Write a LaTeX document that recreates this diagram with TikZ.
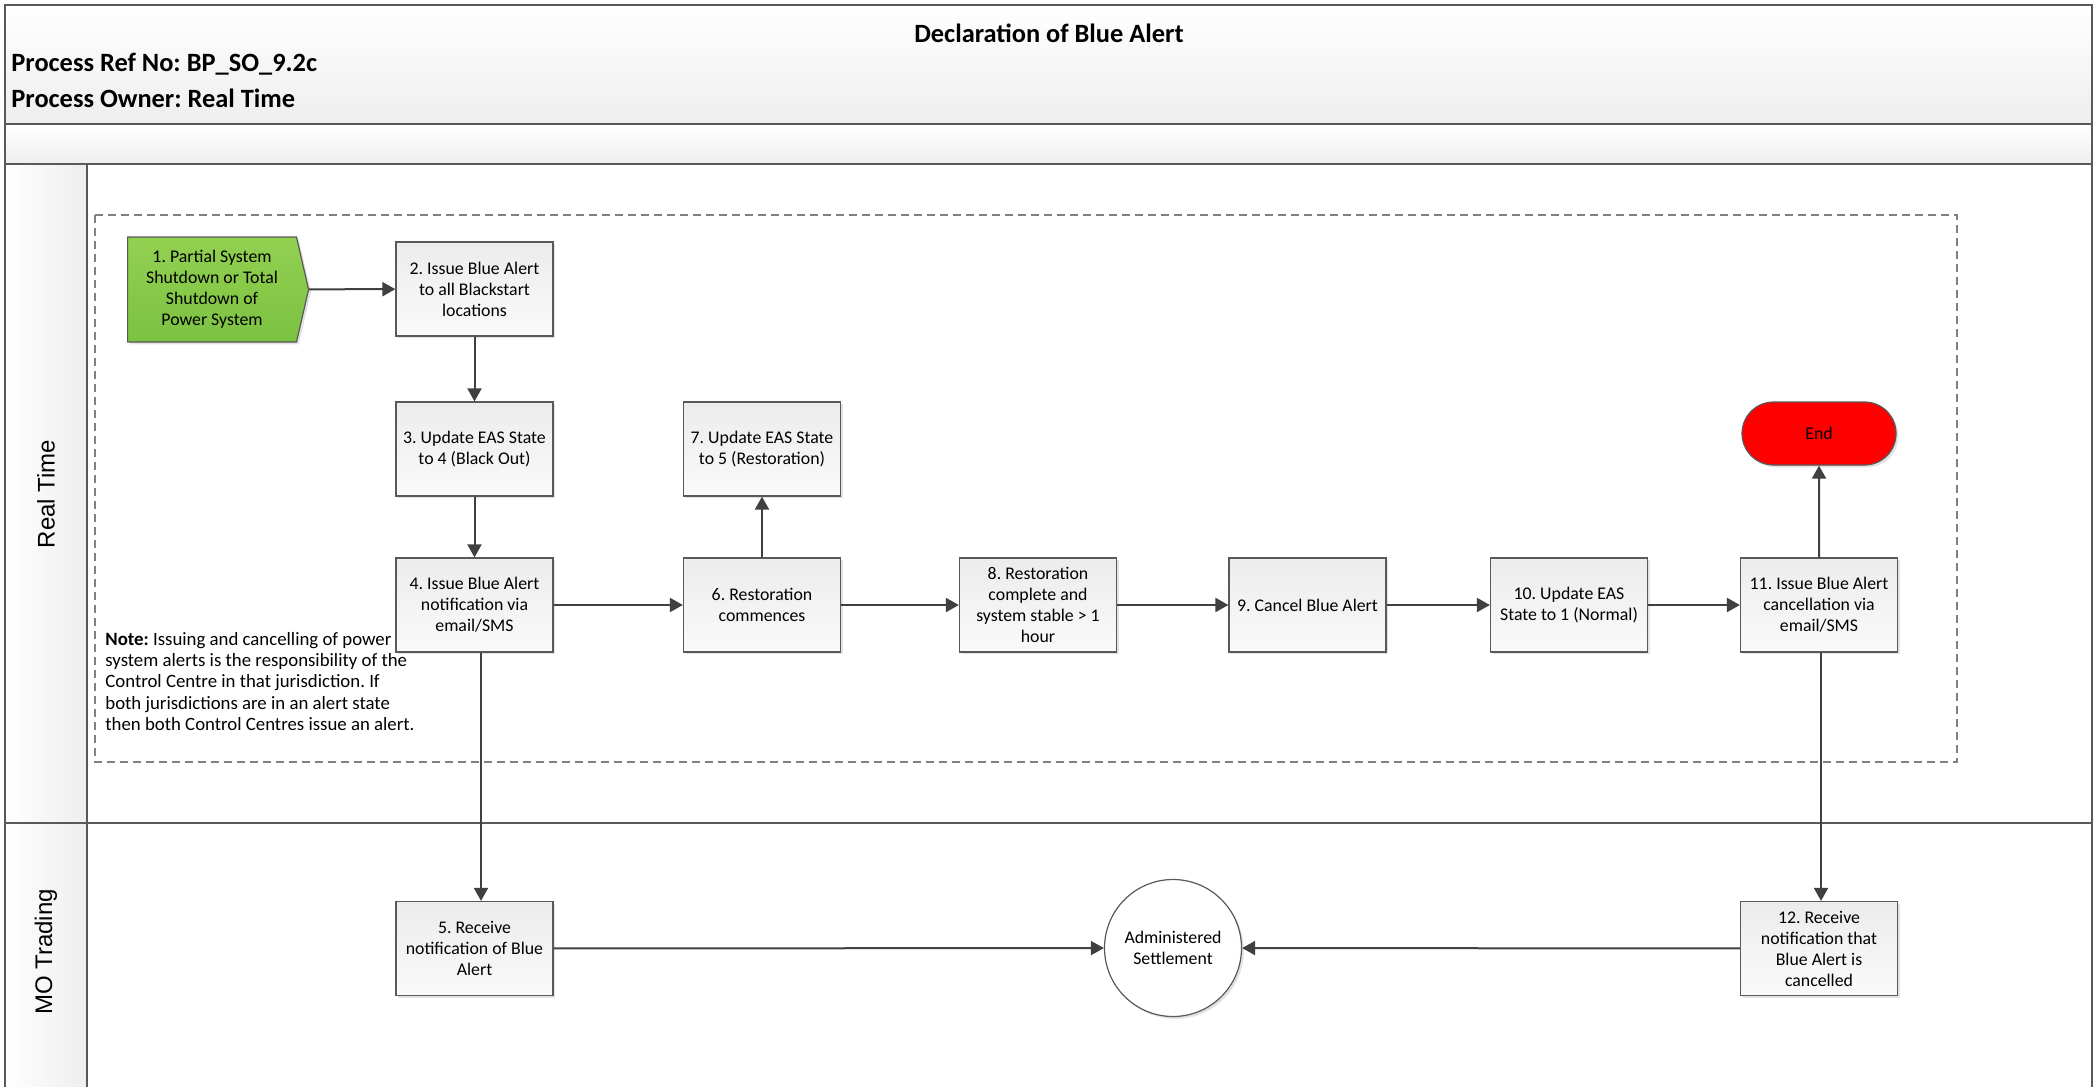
\documentclass[tikz,border=0pt]{standalone}
\usepackage{fontspec}
\setmainfont{Carlito}
\newfontfamily\lanefont{Liberation Sans}
\usetikzlibrary{shapes.geometric,shapes.misc,shapes.symbols,shadows,arrows.meta,calc}
\definecolor{lineg}{HTML}{595959}
\definecolor{arrg}{HTML}{404040}
\definecolor{boxtop}{HTML}{ECECEC}
\definecolor{boxbot}{HTML}{FAFAFA}
\definecolor{hdr}{HTML}{EEEEEE}
\definecolor{greentop}{HTML}{92D050}
\definecolor{greenbot}{HTML}{7CC242}
\definecolor{dashg}{HTML}{808080}
\tikzset{
  frame/.style={draw=lineg, line width=1pt},
  procbox/.style={draw=lineg, line width=0.6pt, top color=boxtop, bottom color=boxbot,
    minimum width=78.5pt, minimum height=47pt, align=center, inner sep=1pt,
    font=\fontsize{8.9}{10.5}\selectfont,
    drop shadow={shadow xshift=1.2pt, shadow yshift=-1.2pt, fill=black!25, opacity=0.45}},
  startbox/.style={procbox, signal, signal to=east, signal pointer angle=154,
    top color=greentop, bottom color=greenbot, minimum width=90.5pt, minimum height=52.5pt},
  endbox/.style={procbox, rounded rectangle, fill=red, top color=red, bottom color=red,
    minimum width=79pt, minimum height=31.5pt},
  settle/.style={procbox, circle, top color=white, bottom color=white, minimum size=68.5pt},
  arr/.style={draw=arrg, line width=1pt, -{Triangle[length=6.5pt,width=7pt]}},
}
\begin{document}
\frenchspacing
\begin{tikzpicture}[x=0.5pt, y=-0.5pt]
\useasboundingbox (0,0) rectangle (2096,1086);
% header and lane backgrounds
\shade[top color=white, bottom color=hdr] (5,5) rectangle (2092,124);
\shade[top color=white, bottom color=hdr] (5,124) rectangle (2092,164);
\shade[left color=white, right color=hdr] (5,164) rectangle (87,1092);
% frame
\draw[frame] (5,1092) -- (5,5) -- (2092,5) -- (2092,1092);
\draw[frame] (5,124) -- (2092,124);
\draw[frame] (5,164) -- (2092,164);
\draw[frame] (5,823) -- (2092,823);
\draw[frame] (87,164) -- (87,1092);
% header texts
\node[font=\bfseries\fontsize{13.2}{15}\selectfont] (title) at (1049,33) {Declaration of Blue Alert};
\node[anchor=west, inner sep=0pt, font=\bfseries\fontsize{13.2}{15}\selectfont] (ref) at (11,64) {Process Ref No: BP\_SO\_9.2c};
\node[anchor=west, inner sep=0pt, font=\bfseries\fontsize{13.2}{15}\selectfont] (owner) at (11,98) {Process Owner: Real Time};
% lane labels
\node[rotate=90, font=\lanefont\fontsize{12}{14}\selectfont] (lrt) at (46,494) {Real Time};
\node[rotate=90, font=\lanefont\fontsize{12}{14}\selectfont] (lmo) at (46,952) {MO Trading};
% dashed group
\draw[draw=dashg, line width=0.6pt, dash pattern=on 4pt off 2.5pt] (95,215) rectangle (1957,762);
% nodes
\node[startbox, anchor=west] (b1) at (127,289.5) {1. Partial System\\Shutdown or Total\\Shutdown of\\Power System};
\node[procbox] (b2) at (474.5,289) {2. Issue Blue Alert\\to all Blackstart\\locations};
\node[procbox] (b3) at (474.5,449) {3. Update EAS State\\to 4 (Black Out)};
\node[procbox] (b4) at (474.5,605) {4. Issue Blue Alert\\notification via\\email/SMS};
\node[procbox] (b5) at (474.5,948.5) {5. Receive\\notification of Blue\\Alert};
\node[procbox] (b6) at (762,605) {6. Restoration\\commences};
\node[procbox] (b7) at (762,449) {7. Update EAS State\\to 5 (Restoration)};
\node[procbox] (b8) at (1038,605) {8. Restoration\\complete and\\system stable > 1\\hour};
\node[procbox] (b9) at (1307.5,605) {9. Cancel Blue Alert};
\node[procbox] (b10) at (1569,605) {10. Update EAS\\State to 1 (Normal)};
\node[procbox] (b11) at (1819,605) {11. Issue Blue Alert\\cancellation via\\email/SMS};
\node[endbox] (end) at (1819,433.5) {End};
\node[procbox] (b12) at (1819,948.5) {12. Receive\\notification that\\Blue Alert is\\cancelled};
\node[settle] (adm) at (1173,948) {Administered\\Settlement};
\node[anchor=north west, align=left, inner sep=0pt, font=\fontsize{9.4}{10.6}\selectfont] (note) at (105,632)
  {\textbf{Note:} Issuing and cancelling of power\\system alerts is the responsibility of the\\Control Centre in that jurisdiction. If\\both jurisdictions are in an alert state\\then both Control Centres issue an alert.};
% connectors
\draw[arr] (b1) -- (b2);
\draw[arr] (b2) -- (b3);
\draw[arr] (b3) -- (b4);
\draw[arr] (b4) -- (b6);
\draw[arr] (b6) -- (b7);
\draw[arr] (b6) -- (b8);
\draw[arr] (b8) -- (b9);
\draw[arr] (b9) -- (b10);
\draw[arr] (b10) -- (b11);
\draw[arr] (b11) -- (end);
\draw[arr] ([xshift=3.25pt]b4.south) -- ([xshift=3.25pt]b5.north);
\draw[arr] ([xshift=1pt]b11.south) -- ([xshift=1pt]b12.north);
\draw[arr] (b5) -- (adm);
\draw[arr] (b12) -- (adm);
\end{tikzpicture}
\end{document}
